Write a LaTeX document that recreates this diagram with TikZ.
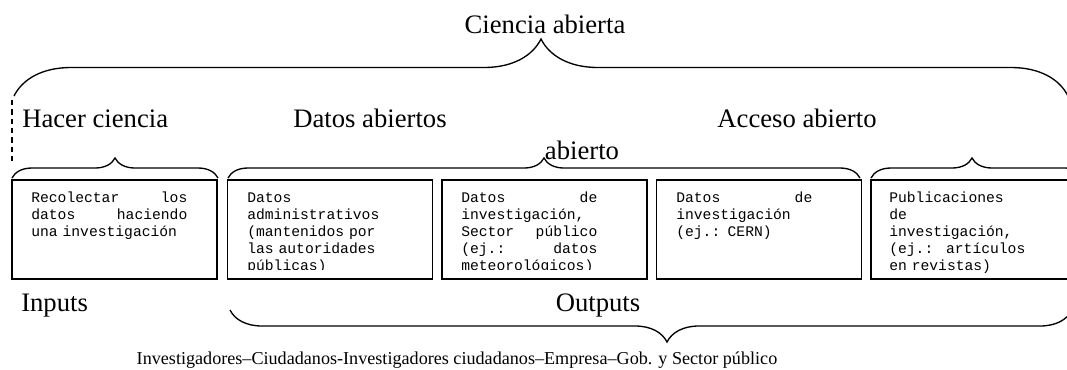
\documentclass[tikz,border=0pt]{standalone}
\usepackage{fontspec}
\setmainfont{Liberation Serif}
\setmonofont{Liberation Mono}
\usetikzlibrary{decorations.pathreplacing}

\tikzset{
  caja/.style={draw, line width=1.4pt, minimum width=153.75pt, minimum height=74.25pt, inner sep=0pt},
  texto/.style={anchor=north west, inner sep=0pt, align=left, text width=102pt,
    font=\ttfamily\fontsize{11}{12.6}\selectfont},
  titulo/.style={anchor=base, inner sep=0pt, font=\fontsize{20}{24}\selectfont},
  llave/.style={decorate, line width=1pt, decoration={brace, amplitude=#1}},
}
\newcommand{\primera}{\rule{0pt}{9.5pt}}

\begin{document}
\begin{tikzpicture}[x=0.75pt, y=-0.75pt]
		\useasboundingbox (0,0) rectangle (1067,369);
		\clip (0,0) rectangle (1067,369);
		%%%%% TITULOS %%%%%
		\node[titulo] (ciencia) at (545,33) {Ciencia abierta};
		\node[titulo, anchor=base west] (hacer) at (22,127) {Hacer ciencia};
		\node[titulo] (datos) at (370,127) {Datos abiertos};
		\node[titulo] (acceso) at (797,127) {Acceso abierto};
		\node[titulo] (abierto) at (582,159) {abierto};
		
		%%%%% LLAVES %%%%%
		\draw[llave=42.75pt] (14,96) -- (1068,96);
		\draw[dashed, line width=0.8pt, dash pattern=on 4pt off 3pt] (12,100) -- (12,165);
		\draw[llave=15pt] (12,178) -- (218,178);
		\draw[llave=15pt] (228,178) -- (860,178);
		\draw[llave=15pt, decoration={aspect=0.472}] (871,178) -- (1085,178);
		
		%%%%% CAJAS %%%%%
		\node[caja] (recolectar) at (114.5,229.5) {};
		\node[caja] (administrativos) at (330,229.5) {};
		\node[caja] (sectorpub) at (544.5,229.5) {};
		\node[caja] (cern) at (759,229.5) {};
		\node[caja] (publicaciones) at (973.5,229.5) {};
		
		\node[texto, text width=117pt] (recolectar-txt) at ([shift={(20,10.8)}]recolectar.north west)
			{\primera Recolectar\hfill los\\datos\hfill haciendo\\una investigación};
		\begin{scope}
			\clip (227.5,180) rectangle (648,269);
			\node[texto] (administrativos-txt) at ([shift={(20.5,10.8)}]administrativos.north west)
				{\primera Datos\\administrativos\\(mantenidos por\\las autoridades\\públicas)};
			\node[texto] (sectorpub-txt) at ([shift={(20,10.8)}]sectorpub.north west)
				{\primera Datos\hfill de\\investigación,\\Sector\hfill público\\(ej.:\hfill datos\\meteorológicos)};
		\end{scope}
		\node[texto] (cern-txt) at ([shift={(20.5,10.8)}]cern.north west)
			{\primera Datos\hfill de\\investigación\\(ej.: CERN)};
		\node[texto] (publicaciones-txt) at ([shift={(19,10.8)}]publicaciones.north west)
			{\primera Publicaciones\\de\\investigación,\\(ej.:\hfill artículos\\en revistas)};
		
		%%%%% ABAJO %%%%%
		\node[titulo, anchor=base west] (inputs) at (21,311) {Inputs};
		\node[titulo] (outputs) at (598,311) {Outputs};
		\draw[llave=24pt, decoration={mirror, aspect=0.519}] (230,310) -- (1072,310);
		\node[anchor=base, inner sep=0pt, font=\fontsize{13.6}{16}\selectfont] (actores) at (457,364)
			{Investigadores–Ciudadanos-Investigadores ciudadanos–Empresa–Gob. y Sector público};
\end{tikzpicture}
\end{document}
